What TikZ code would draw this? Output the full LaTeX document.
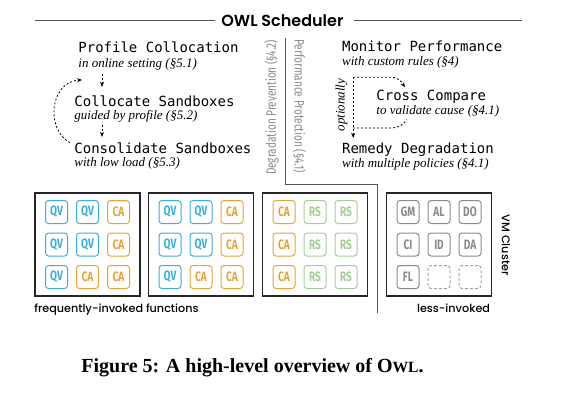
\documentclass[tikz,border=0pt]{standalone}
\usepackage{fontspec}
\setmainfont{Liberation Serif}
\setmonofont{DejaVu Sans Mono}
\newfontfamily\owlsans{Poppins}[UprightFont=* Medium, BoldFont=* SemiBold]
\newfontfamily\owlcond[FakeStretch=0.74]{Fira Sans}
\usetikzlibrary{arrows.meta}
\definecolor{qvBlue}{HTML}{3AAEE0}
\definecolor{caOrange}{HTML}{E9A23B}
\definecolor{rsGreen}{HTML}{A3CE96}
\definecolor{fnGray}{HTML}{8A8A8A}
\definecolor{ruleGray}{HTML}{555555}
\begin{document}
\begin{tikzpicture}
    [x=0.5pt, y=-0.5pt,
    stage/.style={font=\ttfamily\fontsize{7}{8}\selectfont, anchor=base west, inner sep=0pt},
    note/.style={font=\itshape\fontsize{6.5}{7}\selectfont, anchor=base west, inner sep=0pt},
    section/.style={font=\owlcond\fontsize{6.8}{7}\selectfont, text=fnGray, inner sep=0pt},
    label/.style={font=\owlsans\fontsize{5.6}{7}\selectfont, inner sep=0pt},
    vmbox/.style={draw=black!85, line width=0.75pt, minimum width=52.5pt, minimum height=51.5pt},
    cell/.style={draw, rounded corners=1.5pt, line width=0.5pt, inner sep=0pt,
        minimum width=11pt, minimum height=11.5pt,
        font=\owlcond\bfseries\fontsize{6.8}{7}\selectfont},
    qv/.style={cell, draw=qvBlue, text=qvBlue},
    ca/.style={cell, draw=caOrange, text=caOrange},
    rs/.style={cell, draw=rsGreen, text=rsGreen},
    fn/.style={cell, draw=fnGray, text=fnGray},
    spare/.style={cell, draw=fnGray!80, dash pattern=on 1.5pt off 1pt},
    optline/.style={line width=0.4pt, dash pattern=on 1pt off 1pt},
    flow/.style={optline, -{Stealth[length=2.5pt, width=2pt]}},
    divider/.style={draw=ruleGray, line width=0.5pt}]
    \useasboundingbox (0,0) rectangle (563,393);

    % title
    \node [font=\owlsans\bfseries\fontsize{8}{9}\selectfont, anchor=base] (title) at (282.4,26.7) {OWL Scheduler};
    \draw [divider] (35,20) -- (215,20);
    \draw [divider] (354,20) -- (522,20);

    % collocation side
    \node [stage] (profCol) at (78,52.5) {Profile Collocation};
    \node [note] (profColNote) at (78,67.5) {in online setting (§5.1)};
    \node [stage] (collocate) at (74,106) {Collocate Sandboxes};
    \node [note] (collocateNote) at (74,119) {guided by profile (§5.2)};
    \node [stage] (consolidate) at (74,153) {Consolidate Sandboxes};
    \node [note] (consolidateNote) at (74,166.5) {with low load (§5.3)};
    \draw [flow] ([shift={(24,3)}]profColNote.south west) -- ([shift={(28,-8)}]collocate.north west);
    \draw [flow] ([shift={(28,3)}]collocateNote.south west) -- ([shift={(28,-5)}]consolidate.north west);
    \draw [flow] ([shift={(-4,-5)}]consolidate.west) .. controls +(-25,-14) and +(-32,2) .. ([shift={(8,-15)}]collocate.north west);

    % section labels and divider
    \node [section, rotate=90] (prevention) at (271.5,107.5) {Degradation Prevention (§4.2)};
    \node [section, rotate=-90] (protection) at (299.5,106) {Performance Protection (§4.1)};
    \draw [divider] (285,38) -- (285,184) -- (377,184) -- (377,313);

    % protection side
    \node [stage] (monitor) at (341.7,51.7) {Monitor Performance};
    \node [note] (monitorNote) at (341.7,65) {with custom rules (§4)};
    \node [stage] (crossCmp) at (376,100) {Cross Compare};
    \node [note] (crossCmpNote) at (376,114.5) {to validate cause (§4.1)};
    \node [stage] (remedy) at (341.7,153) {Remedy Degradation};
    \node [note] (remedyNote) at (341.7,167) {with multiple policies (§4.1)};
    \coordinate (optFork) at ([shift={(11.5,9)}]monitorNote.south west);
    \coordinate (optJoin) at ([shift={(11.5,-14)}]remedy.north west);
    \draw [flow] (optFork) -- ([shift={(11.5,-4)}]remedy.north west);
    \draw [flow] (optFork) -- ++(36,0) .. controls +(10,0) and +(-4,-6) .. ([shift={(29,-2)}]crossCmp.north west);
    \draw [optline] (optJoin) -- ++(37,0) .. controls +(9,0) and +(-4,5) .. ([shift={(31,2)}]crossCmpNote.south west);
    \node [note, anchor=center, rotate=90] (optional) at (341.5,105) {optionally};

    % vm cluster
    \node [vmbox] (vm1) at (87.5,244.5) {};
    \node [vmbox] (vm2) at (201,244.5) {};
    \node [vmbox] (vm3) at (315,244.5) {};
    \node [vmbox] (vm4) at (439,244.5) {};

    \node [qv] (a11) at (56.5,212) {QV};
    \node [qv] (a12) at (87.5,212) {QV};
    \node [ca] (a13) at (118.5,212) {CA};
    \node [qv] (a21) at (56.5,244.5) {QV};
    \node [qv] (a22) at (87.5,244.5) {QV};
    \node [ca] (a23) at (118.5,244.5) {CA};
    \node [qv] (a31) at (56.5,277) {QV};
    \node [ca] (a32) at (87.5,277) {CA};
    \node [ca] (a33) at (118.5,277) {CA};

    \node [qv] (b11) at (170,212) {QV};
    \node [qv] (b12) at (201,212) {QV};
    \node [ca] (b13) at (232,212) {CA};
    \node [qv] (b21) at (170,244.5) {QV};
    \node [qv] (b22) at (201,244.5) {QV};
    \node [ca] (b23) at (232,244.5) {CA};
    \node [qv] (b31) at (170,277) {QV};
    \node [ca] (b32) at (201,277) {CA};
    \node [ca] (b33) at (232,277) {CA};

    \node [ca] (c11) at (284,212) {CA};
    \node [rs] (c12) at (315,212) {RS};
    \node [rs] (c13) at (346,212) {RS};
    \node [ca] (c21) at (284,244.5) {CA};
    \node [rs] (c22) at (315,244.5) {RS};
    \node [rs] (c23) at (346,244.5) {RS};
    \node [ca] (c31) at (284,277) {CA};
    \node [rs] (c32) at (315,277) {RS};
    \node [rs] (c33) at (346,277) {RS};

    \node [fn] (d11) at (408,212) {GM};
    \node [fn] (d12) at (439,212) {AL};
    \node [fn] (d13) at (470,212) {DO};
    \node [fn] (d21) at (408,244.5) {CI};
    \node [fn] (d22) at (439,244.5) {ID};
    \node [fn] (d23) at (470,244.5) {DA};
    \node [fn] (d31) at (408,277) {FL};
    \node [spare] (d32) at (439,277) {};
    \node [spare] (d33) at (470,277) {};

    \node [label, anchor=base west] (frequent) at (34,312) {frequently-invoked functions};
    \node [label, anchor=base west] (rare) at (416.7,312.5) {less-invoked};
    \node [label, rotate=-90] (cluster) at (506,245) {VM Cluster};

    % caption
    \node [font=\bfseries\fontsize{10}{12}\selectfont, anchor=base] (caption) at (252.5,372)
        {Figure 5: A high-level overview of O{\fontsize{7.8}{10}\selectfont WL}.};
\end{tikzpicture}
\end{document}
